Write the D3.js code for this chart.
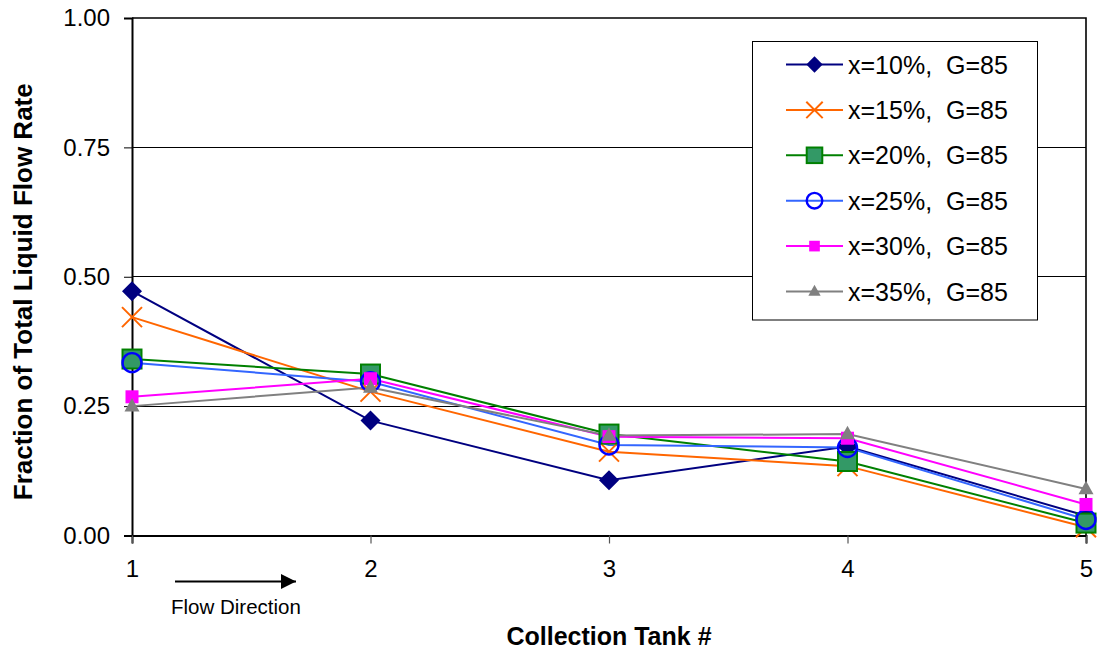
<!DOCTYPE html>
<html>
<head>
<meta charset="utf-8">
<script src="https://cdn.jsdelivr.net/npm/d3@7"></script>
<style>
  html, body { margin: 0; padding: 0; background: #fff; }
  svg { display: block; font-family: "Liberation Sans", Arial, sans-serif; }
</style>
</head>
<body>
<svg id="chart" width="1098" height="653"></svg>
<script>
// Collection tanks along the flow direction
const tanks = [1, 2, 3, 4, 5];
const yTicks = [0, 0.25, 0.5, 0.75, 1.0];

// Fraction of total liquid flow rate collected in each tank
const x10 = [0.472, 0.222, 0.107, 0.172, 0.038];
const x15 = [0.422, 0.278, 0.162, 0.134, 0.016];
const x20 = [0.341, 0.312, 0.196, 0.143, 0.024];
const x25 = [0.334, 0.297, 0.175, 0.170, 0.031];
const x30 = [0.268, 0.303, 0.191, 0.188, 0.060];
const x35 = [0.250, 0.286, 0.193, 0.196, 0.090];

const seriesNames = ["x=10%, G=85", "x=15%, G=85", "x=20%, G=85", "x=25%, G=85", "x=30%, G=85", "x=35%, G=85"];

const series = [
  { name: seriesNames[0], values: x10, line: "#000080", marker: "diamond", fill: "#000080", stroke: "#000080" },
  { name: seriesNames[1], values: x15, line: "#FF6600", marker: "cross",   fill: "none",    stroke: "#FF6600" },
  { name: seriesNames[2], values: x20, line: "#008000", marker: "square",  fill: "#339966", stroke: "#008000" },
  { name: seriesNames[3], values: x25, line: "#3366FF", marker: "circle",  fill: "none",    stroke: "#0000FF" },
  { name: seriesNames[4], values: x30, line: "#FF00FF", marker: "psquare", fill: "#FF00FF", stroke: "#FF00FF" },
  { name: seriesNames[5], values: x35, line: "#808080", marker: "triangle", fill: "#808080", stroke: "#808080" }
];

const svg = d3.select("#chart");
const plotL = 132, plotR = 1086, plotT = 18, plotB = 535.5;

const x = d3.scaleLinear().domain([1, 5]).range([plotL, plotR]);
const y = d3.scaleLinear().domain([0, 1]).range([plotB, plotT]);

// Gridlines
svg.append("g")
  .selectAll("line")
  .data(yTicks.filter(d => d > 0 && d < 1))
  .join("line")
  .attr("x1", plotL).attr("x2", plotR)
  .attr("y1", d => y(d)).attr("y2", d => y(d))
  .attr("stroke", "#000").attr("stroke-width", 1)
  .attr("shape-rendering", "crispEdges");

// Plot border (top and right)
svg.append("path")
  .attr("d", `M${plotL},${plotT}H${plotR}V${plotB}`)
  .attr("fill", "none").attr("stroke", "#000").attr("stroke-width", 1.6);

// Y axis
const yAxis = svg.append("g")
  .attr("transform", `translate(${plotL},0)`)
  .call(d3.axisLeft(y).tickValues(yTicks).tickFormat(d3.format(".2f")).tickSize(8).tickPadding(14));
yAxis.select(".domain").attr("stroke", "#000").attr("stroke-width", 2);
yAxis.selectAll(".tick line").attr("stroke", "#000").attr("stroke-width", 1);
yAxis.selectAll(".tick text")
  .attr("font-size", 24).attr("fill", "#000")
  .attr("font-family", "Liberation Sans, Arial, sans-serif");

// X axis
const xAxis = svg.append("g")
  .attr("transform", `translate(0,${plotB})`)
  .call(d3.axisBottom(x).tickValues(tanks).tickFormat(d3.format("d")).tickSize(8).tickPadding(16));
xAxis.select(".domain").attr("stroke", "#000").attr("stroke-width", 2);
xAxis.selectAll(".tick line").attr("stroke", "#555").attr("stroke-width", 1.2);
xAxis.selectAll(".tick text")
  .attr("font-size", 24).attr("fill", "#000")
  .attr("font-family", "Liberation Sans, Arial, sans-serif");

// Axis titles
svg.append("text")
  .attr("x", x(3)).attr("y", 645)
  .attr("text-anchor", "middle")
  .attr("font-size", 25).attr("font-weight", "bold")
  .text("Collection Tank #");

svg.append("text")
  .attr("transform", `translate(32,${(plotT + plotB) / 2 + 15}) rotate(-90)`)
  .attr("text-anchor", "middle")
  .attr("font-size", 26).attr("font-weight", "bold")
  .text("Fraction of Total Liquid Flow Rate");

// Flow direction arrow and note
svg.append("defs").append("marker")
  .attr("id", "arrowhead")
  .attr("viewBox", "0 0 10 10")
  .attr("refX", 10).attr("refY", 5)
  .attr("markerWidth", 8).attr("markerHeight", 7.5)
  .attr("markerUnits", "strokeWidth")
  .attr("orient", "auto")
  .append("path").attr("d", "M0,0L10,5L0,10Z").attr("fill", "#000");

svg.append("line")
  .attr("x1", 175).attr("x2", 296)
  .attr("y1", 581.5).attr("y2", 581.5)
  .attr("stroke", "#000").attr("stroke-width", 2)
  .attr("marker-end", "url(#arrowhead)");

svg.append("text")
  .attr("x", 171).attr("y", 614)
  .attr("font-size", 20.5)
  .text("Flow Direction");

// Marker drawing
function drawMarker(g, s, cx, cy, k) {
  if (s.marker === "diamond") {
    const r = 10 * k;
    g.append("path")
      .attr("d", `M${cx},${cy - r}L${cx + r},${cy}L${cx},${cy + r}L${cx - r},${cy}Z`)
      .attr("fill", s.fill);
  } else if (s.marker === "cross") {
    const r = 10 * k;
    g.append("path")
      .attr("d", `M${cx - r},${cy - r}L${cx + r},${cy + r}M${cx - r},${cy + r}L${cx + r},${cy - r}`)
      .attr("stroke", s.stroke).attr("stroke-width", 2).attr("fill", "none");
  } else if (s.marker === "square") {
    const r = 9.5 * k;
    g.append("rect")
      .attr("x", cx - r).attr("y", cy - r).attr("width", 2 * r).attr("height", 2 * r)
      .attr("fill", s.fill).attr("stroke", s.stroke).attr("stroke-width", 2);
  } else if (s.marker === "circle") {
    const r = 9.5 * k;
    g.append("circle")
      .attr("cx", cx).attr("cy", cy).attr("r", r)
      .attr("fill", "none").attr("stroke", s.stroke).attr("stroke-width", 2.4);
  } else if (s.marker === "psquare") {
    const r = 6.5 * k;
    g.append("rect")
      .attr("x", cx - r).attr("y", cy - r).attr("width", 2 * r).attr("height", 2 * r)
      .attr("fill", s.fill);
  } else if (s.marker === "triangle") {
    const r = 7.5 * k;
    g.append("path")
      .attr("d", `M${cx},${cy - r * 1.1}L${cx + r},${cy + r * 0.7}L${cx - r},${cy + r * 0.7}Z`)
      .attr("fill", s.fill);
  }
}

// Series lines and markers
const line = d3.line().x((d, i) => x(tanks[i])).y(d => y(d));
const plot = svg.append("g");
series.forEach(s => {
  plot.append("path")
    .datum(s.values)
    .attr("d", line)
    .attr("fill", "none")
    .attr("stroke", s.line)
    .attr("stroke-width", 2);
});
series.forEach(s => {
  const g = plot.append("g");
  s.values.forEach((v, i) => drawMarker(g, s, x(tanks[i]), y(v), 1));
});

// Legend
const legend = svg.append("g");
legend.append("rect")
  .attr("x", 752.5).attr("y", 41.5).attr("width", 285).attr("height", 278.5)
  .attr("fill", "#fff").attr("stroke", "#000").attr("stroke-width", 1);

const rowY = d3.scalePoint().domain(seriesNames).range([64.5, 291.5]);
series.forEach(s => {
  const cy = rowY(s.name);
  const g = legend.append("g");
  g.append("line")
    .attr("x1", 786).attr("x2", 843)
    .attr("y1", cy).attr("y2", cy)
    .attr("stroke", s.line).attr("stroke-width", 2);
  drawMarker(g, s, 814.5, cy, 0.82);
  g.append("text")
    .attr("x", 848).attr("y", cy + 9)
    .attr("font-size", 25)
    .text(s.name.replace(", ", ",\u00a0 "));
});
</script>
</body>
</html>
